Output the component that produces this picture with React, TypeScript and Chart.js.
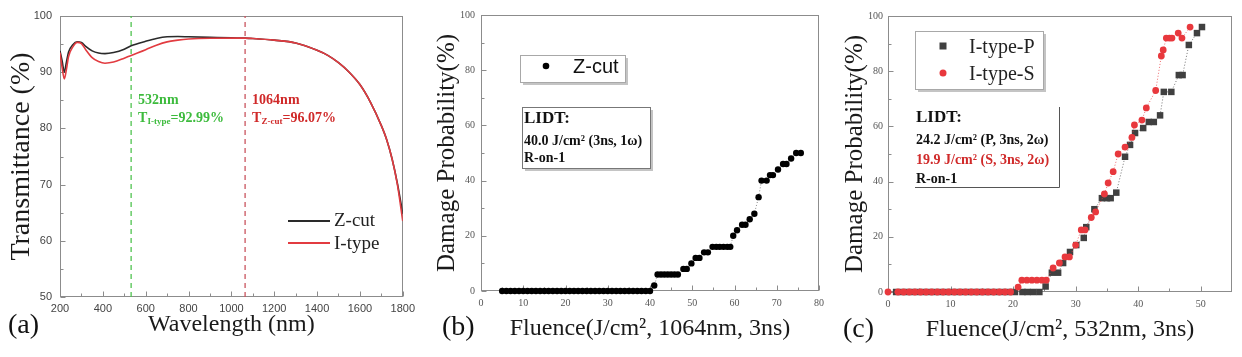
import React, { useEffect, useRef } from "react";
import { Chart, registerables } from "chart.js";

Chart.register(...registerables);

const SERIF = '"Liberation Serif", "Times New Roman", serif';
const SANS = '"Liberation Sans", Arial, sans-serif';

// ---------------- Panel (a): transmittance ----------------
const wavelengthNm = [200, 210, 220, 230, 240, 260, 280, 300, 320, 350, 380, 410, 450, 500, 532, 600, 650, 700, 750, 800, 900, 1000, 1064, 1100, 1200, 1300, 1400, 1450, 1500, 1550, 1600, 1650, 1700, 1725, 1750, 1775, 1800];
const zCutTransmittance = [93.8, 92.0, 90.0, 91.8, 93.6, 94.9, 95.4, 95.3, 94.6, 93.8, 93.4, 93.3, 93.5, 94.1, 94.7, 95.5, 96.0, 96.3, 96.35, 96.3, 96.2, 96.1, 96.07, 96.0, 95.7, 95.2, 93.9, 93.0, 91.7, 90.0, 87.8, 84.6, 80.5, 78.0, 74.6, 70.2, 64.8];
const iTypeTransmittance = [93.5, 90.8, 88.8, 90.5, 92.8, 94.5, 95.3, 95.1, 94.0, 92.6, 91.9, 91.6, 91.8, 92.5, 92.99, 94.0, 94.8, 95.4, 95.7, 95.9, 96.05, 96.07, 96.07, 96.0, 95.7, 95.2, 93.9, 93.0, 91.7, 90.0, 87.8, 84.6, 80.5, 78.0, 74.6, 70.0, 63.5];
const markerWavelengths = [532, 1064];
const aXTicks = [200, 400, 600, 800, 1000, 1200, 1400, 1600, 1800];
const aYTicks = [50, 60, 70, 80, 90, 100];

// ---------------- Panel (b): Z-cut, 1064 nm ----------------
const bFluence = [5, 6, 7, 8, 9, 10, 11, 12, 13, 14, 15, 16, 17, 18, 19, 20, 21, 22, 23, 24, 25, 26, 27, 28, 29, 30, 31, 32, 33, 34, 35, 36, 37, 38, 39, 40,
  41, 41.8, 42.6, 43.4, 44.2, 45.0, 45.8, 46.6, 47.9, 48.7, 49.8, 50.8, 51.7, 52.8, 53.7, 54.8, 55.7, 56.5, 57.4, 58.3, 59.0,
  59.7, 60.6, 61.8, 62.6, 63.6, 64.7, 65.7, 66.4, 67.6, 68.4, 69.1, 70.3, 71.5, 72.3, 73.4, 74.6, 75.7];
const bProbability = [0, 0, 0, 0, 0, 0, 0, 0, 0, 0, 0, 0, 0, 0, 0, 0, 0, 0, 0, 0, 0, 0, 0, 0, 0, 0, 0, 0, 0, 0, 0, 0, 0, 0, 0, 0,
  2, 6, 6, 6, 6, 6, 6, 6, 8, 8, 10, 12, 12, 14, 14, 16, 16, 16, 16, 16, 16,
  20, 22, 24, 24, 26, 28, 34, 40, 40, 42, 42, 44, 46, 46, 48, 50, 50];
const bXTicks = [0, 10, 20, 30, 40, 50, 60, 70, 80];
const bYTicks = [0, 20, 40, 60, 80, 100];

// ---------------- Panel (c): I-type, 532 nm ----------------
const cFluenceP = [1.3, 2.3, 3.3, 4.3, 5.3, 6.3, 7.3, 8.3, 9.3, 10.3, 11.3, 12.3, 13.3, 14.3, 15.3, 16.3, 17.3, 18.3, 19.3, 20.3, 21.5, 22.3, 23.2, 24.2,
  25.2, 26.2, 27.2, 28.0, 29.1, 30.1, 31.3, 31.7, 33.0, 34.2, 35.0, 35.6, 36.5, 37.9, 38.7, 39.5, 40.8, 41.7, 42.5, 43.5, 44.1, 45.3, 46.5, 47.1, 48.1, 49.4, 50.2];
const cProbP = [0, 0, 0, 0, 0, 0, 0, 0, 0, 0, 0, 0, 0, 0, 0, 0, 0, 0, 0, 0, 0, 0, 0, 0,
  2, 7, 7, 10.5, 14.5, 17, 19.6, 23.5, 30, 34, 34, 34, 36, 49, 53.3, 57.6, 59.4, 61.6, 61.6, 64, 72.5, 72.5, 78.6, 78.6, 89.5, 93.8, 96];
const cFluenceS = [0, 1.6, 2.5, 3.4, 4.3, 5.2, 6.1, 7.0, 7.9, 8.8, 9.7, 10.6, 11.5, 12.4, 13.3, 14.2, 15.1, 16.0, 16.9, 17.8, 18.7, 19.6,
  20.8, 21.4, 22.2, 23.0, 23.8, 24.6, 25.3,
  26.4, 27.4, 28.3, 29.0, 30.0, 30.9, 31.5, 32.5, 33.2, 34.6, 35.2, 36.0, 36.8, 37.9, 39.0, 39.4, 40.6, 41.3, 42.8, 43.7, 44.0, 44.5, 45.0, 45.4, 46.4, 47.0, 48.3];
const cProbS = [0, 0, 0, 0, 0, 0, 0, 0, 0, 0, 0, 0, 0, 0, 0, 0, 0, 0, 0, 0, 0, 0,
  1.8, 4.3, 4.3, 4.3, 4.3, 4.3, 4.3,
  8.7, 10.5, 12.7, 12.7, 17, 22.5, 22.5, 27, 29, 35.5, 39.5, 43.6, 50, 52.5, 56, 60.5, 62.3, 66.7, 73, 85.5, 87.7, 92, 92, 92, 93.8, 92, 96];
const cXTicks = [0, 10, 20, 30, 40, 50];
const cYTicks = [0, 20, 40, 60, 80, 100];

// ---------------- helpers ----------------
const pts = (xs: number[], ys: number[]) => xs.map((x, i) => ({ x, y: ys[i] }));

function linearAxis(cfg: {
  min: number; max: number; ticks: number[]; fit: number; horizontal: boolean;
  tickFont: any; tickColor: string; tickPad: number;
  title: string; titleFont: any; titlePad: any;
}) {
  return {
    type: "linear",
    min: cfg.min,
    max: cfg.max,
    afterBuildTicks: (s: any) => { s.ticks = cfg.ticks.map((v) => ({ value: v })); },
    afterFit: (s: any) => { if (cfg.horizontal) s.height = cfg.fit; else s.width = cfg.fit; },
    grid: { display: false, drawTicks: false },
    border: { display: false },
    ticks: { font: cfg.tickFont, color: cfg.tickColor, padding: cfg.tickPad, maxRotation: 0, autoSkip: false, callback: (v: any) => String(v) },
    title: { display: true, text: cfg.title, font: cfg.titleFont, color: "#1a1a1a", padding: cfg.titlePad },
  };
}

function framePlugin(color: string) {
  return {
    id: "frame",
    beforeDatasetsDraw(chart: any) {
      const { ctx, chartArea: a, scales } = chart;
      const L = Math.round(a.left) + 0.5, R = Math.round(a.right) - 0.5;
      const T = Math.round(a.top) + 0.5, B = Math.round(a.bottom) - 0.5;
      ctx.save();
      ctx.strokeStyle = color;
      ctx.lineWidth = 1;
      ctx.strokeRect(L, T, R - L, B - T);
      const mids = (v: number[]) => v.slice(1).map((t, i) => (t + v[i]) / 2);
      const xv = scales.x.ticks.map((t: any) => t.value);
      const yv = scales.y.ticks.map((t: any) => t.value);
      ctx.beginPath();
      xv.forEach((v: number) => { const p = Math.round(scales.x.getPixelForValue(v)) + 0.5; ctx.moveTo(p, B); ctx.lineTo(p, B - 5); });
      mids(xv).forEach((v: number) => { const p = Math.round(scales.x.getPixelForValue(v)) + 0.5; ctx.moveTo(p, B); ctx.lineTo(p, B - 3); });
      yv.forEach((v: number) => { const p = Math.round(scales.y.getPixelForValue(v)) + 0.5; ctx.moveTo(L, p); ctx.lineTo(L + 5, p); });
      mids(yv).forEach((v: number) => { const p = Math.round(scales.y.getPixelForValue(v)) + 0.5; ctx.moveTo(L, p); ctx.lineTo(L + 3, p); });
      ctx.stroke();
      ctx.restore();
    },
  };
}

function shadowBox(ctx: CanvasRenderingContext2D, x0: number, y0: number, x1: number, y1: number, border: string) {
  ctx.fillStyle = "#c4c4c4";
  ctx.fillRect(x0 + 3, y0 + 3, x1 - x0, y1 - y0);
  ctx.fillStyle = "#ffffff";
  ctx.fillRect(x0, y0, x1 - x0, y1 - y0);
  ctx.strokeStyle = border;
  ctx.lineWidth = 1;
  ctx.strokeRect(x0 + 0.5, y0 + 0.5, x1 - x0, y1 - y0);
}

function subText(ctx: CanvasRenderingContext2D, x: number, y: number, main: string, sub: string, rest: string, size: number, subSize: number) {
  ctx.font = `bold ${size}px ${SERIF}`;
  ctx.fillText(main, x, y);
  let cx = x + ctx.measureText(main).width;
  ctx.font = `bold ${subSize}px ${SERIF}`;
  ctx.fillText(sub, cx, y + 4);
  cx += ctx.measureText(sub).width;
  ctx.font = `bold ${size}px ${SERIF}`;
  ctx.fillText(rest, cx, y);
}

const GREEN = "#3dbb3d";
const RED_TXT = "#d02a2a";
const Z_COLOR = "#2a2a2a";
const I_COLOR = "#e23b40";

// ---------------- Panel builders ----------------
function buildA(): any {
  const textA = {
    id: "textA",
    afterDraw(chart: any) {
      const { ctx, scales } = chart;
      ctx.save();
      ctx.textBaseline = "middle";
      ctx.textAlign = "left";
      const g = scales.x.getPixelForValue(markerWavelengths[0]) + 7;
      ctx.fillStyle = GREEN;
      ctx.font = `bold 14px ${SERIF}`;
      ctx.fillText("532nm", g, 100);
      subText(ctx, g, 118, "T", "I-type", "=92.99%", 14, 9);
      const r = scales.x.getPixelForValue(markerWavelengths[1]) + 7;
      ctx.fillStyle = RED_TXT;
      ctx.font = `bold 14px ${SERIF}`;
      ctx.fillText("1064nm", r, 100);
      subText(ctx, r, 118, "T", "Z-cut", "=96.07%", 14, 9);
      // legend
      ctx.lineWidth = 2;
      ctx.strokeStyle = Z_COLOR;
      ctx.beginPath(); ctx.moveTo(288, 221); ctx.lineTo(330, 221); ctx.stroke();
      ctx.strokeStyle = I_COLOR;
      ctx.beginPath(); ctx.moveTo(288, 243); ctx.lineTo(330, 243); ctx.stroke();
      ctx.fillStyle = "#222";
      ctx.font = `19px ${SERIF}`;
      ctx.fillText("Z-cut", 334, 221);
      ctx.fillText("I-type", 334, 244);
      ctx.font = `28px ${SERIF}`;
      ctx.fillStyle = "#111";
      ctx.fillText("(a)", 8, 326);
      ctx.restore();
    },
  };
  return {
    type: "line",
    data: {
      datasets: [
        { label: "I-type", data: pts(wavelengthNm, iTypeTransmittance), borderColor: I_COLOR, borderWidth: 1.6, pointRadius: 0, cubicInterpolationMode: "monotone", fill: false },
        { label: "Z-cut", data: pts(wavelengthNm, zCutTransmittance), borderColor: Z_COLOR, borderWidth: 1.6, pointRadius: 0, cubicInterpolationMode: "monotone", fill: false },
        { label: "532nm", data: [{ x: markerWavelengths[0], y: aYTicks[0] }, { x: markerWavelengths[0], y: aYTicks[aYTicks.length - 1] }], borderColor: "#4fc24f", borderDash: [5, 4], borderWidth: 1.3, pointRadius: 0 },
        { label: "1064nm", data: [{ x: markerWavelengths[1], y: aYTicks[0] }, { x: markerWavelengths[1], y: aYTicks[aYTicks.length - 1] }], borderColor: "#c9545e", borderDash: [5, 4], borderWidth: 1.3, pointRadius: 0 },
      ],
    },
    options: {
      responsive: false,
      animation: false,
      devicePixelRatio: 1,
      layout: { padding: { left: 0, top: 16, right: 13, bottom: 0 } },
      plugins: { legend: { display: false }, tooltip: { enabled: false } },
      scales: {
        x: linearAxis({ min: 200, max: 1800, ticks: aXTicks, fit: 60, horizontal: true, tickFont: { family: SANS, size: 11 }, tickColor: "#444", tickPad: 5, title: "Wavelength (nm)", titleFont: { family: SERIF, size: 24 }, titlePad: { top: 0, bottom: 18 } }),
        y: linearAxis({ min: 50, max: 100, ticks: aYTicks, fit: 60, horizontal: false, tickFont: { family: SANS, size: 11 }, tickColor: "#444", tickPad: 8, title: "Transmittance (%)", titleFont: { family: SERIF, size: 28 }, titlePad: { top: 5, bottom: 0 } }),
      },
    },
    plugins: [framePlugin("#8c8c8c"), textA],
  };
}

function buildB(): any {
  const textB = {
    id: "textB",
    afterDraw(chart: any) {
      const ctx = chart.ctx as CanvasRenderingContext2D;
      ctx.save();
      ctx.textBaseline = "middle";
      ctx.textAlign = "left";
      shadowBox(ctx, 100, 55, 205, 82, "#a8a8a8");
      ctx.fillStyle = "#000";
      ctx.beginPath(); ctx.arc(126, 66, 3.3, 0, Math.PI * 2); ctx.fill();
      ctx.font = `20px ${SANS}`;
      ctx.fillStyle = "#111";
      ctx.fillText("Z-cut", 153, 67);
      shadowBox(ctx, 102, 107, 230, 168, "#777");
      ctx.fillStyle = "#111";
      ctx.font = `bold 17px ${SERIF}`;
      ctx.fillText("LIDT:", 104, 119);
      ctx.font = `bold 14px ${SERIF}`;
      ctx.fillText("40.0 J/cm² (3ns, 1ω)", 104, 141);
      ctx.fillText("R-on-1", 104, 158);
      ctx.font = `28px ${SERIF}`;
      ctx.fillText("(b)", 22, 328);
      ctx.restore();
    },
  };
  return {
    type: "scatter",
    data: {
      datasets: [
        { label: "Z-cut", data: pts(bFluence, bProbability), showLine: true, borderColor: "rgba(90,90,90,0.7)", borderWidth: 1, borderDash: [1, 2], pointStyle: "circle", pointRadius: 3.2, pointBackgroundColor: "#000", pointBorderWidth: 0, clip: false },
      ],
    },
    options: {
      responsive: false,
      animation: false,
      devicePixelRatio: 1,
      layout: { padding: { left: 0, top: 15, right: 5, bottom: 0 } },
      plugins: { legend: { display: false }, tooltip: { enabled: false } },
      scales: {
        x: linearAxis({ min: 0, max: 80, ticks: bXTicks, fit: 66, horizontal: true, tickFont: { family: SERIF, size: 10 }, tickColor: "#555", tickPad: 6, title: "Fluence(J/cm², 1064nm, 3ns)", titleFont: { family: SERIF, size: 24 }, titlePad: { top: 0, bottom: 14 } }),
        y: linearAxis({ min: 0, max: 100, ticks: bYTicks, fit: 61, horizontal: false, tickFont: { family: SERIF, size: 10 }, tickColor: "#555", tickPad: 6, title: "Damage Probability(%)", titleFont: { family: SERIF, size: 25 }, titlePad: { top: 12, bottom: 0 } }),
      },
    },
    plugins: [framePlugin("#8c8c8c"), textB],
  };
}

function buildC(): any {
  const P_COLOR = "#404040";
  const S_COLOR = "#e8383d";
  const textC = {
    id: "textC",
    afterDraw(chart: any) {
      const ctx = chart.ctx as CanvasRenderingContext2D;
      ctx.save();
      ctx.textBaseline = "middle";
      ctx.textAlign = "left";
      shadowBox(ctx, 85, 31, 213, 89, "#a8a8a8");
      ctx.fillStyle = P_COLOR;
      ctx.fillRect(113 - 3.5, 46 - 3.5, 7, 7);
      ctx.fillStyle = S_COLOR;
      ctx.beginPath(); ctx.arc(113, 73, 3.5, 0, Math.PI * 2); ctx.fill();
      ctx.fillStyle = "#222";
      ctx.font = `20px ${SERIF}`;
      ctx.fillText("I-type-P", 139, 48);
      ctx.fillText("I-type-S", 139, 75);
      // LIDT box: right & bottom edges only
      ctx.fillStyle = "#fff";
      ctx.fillRect(85, 107, 144, 80);
      ctx.strokeStyle = "#555";
      ctx.lineWidth = 1;
      ctx.beginPath();
      ctx.moveTo(229.5, 107); ctx.lineTo(229.5, 187.5); ctx.lineTo(85, 187.5);
      ctx.stroke();
      ctx.fillStyle = "#111";
      ctx.font = `bold 17px ${SERIF}`;
      ctx.fillText("LIDT:", 86, 118);
      ctx.font = `bold 14px ${SERIF}`;
      ctx.fillText("24.2 J/cm² (P, 3ns, 2ω)", 86, 140);
      ctx.fillStyle = RED_TXT;
      ctx.fillText("19.9 J/cm² (S, 3ns, 2ω)", 86, 160);
      ctx.fillStyle = "#111";
      ctx.fillText("R-on-1", 86, 179);
      ctx.font = `28px ${SERIF}`;
      ctx.fillText("(c)", 13, 330);
      ctx.restore();
    },
  };
  return {
    type: "scatter",
    data: {
      datasets: [
        { label: "I-type-S", data: pts(cFluenceS, cProbS), showLine: true, borderColor: "rgba(232,56,61,0.75)", borderWidth: 1, borderDash: [1, 2], pointStyle: "circle", pointRadius: 3.4, pointBackgroundColor: S_COLOR, pointBorderWidth: 0, clip: false },
        { label: "I-type-P", data: pts(cFluenceP, cProbP), showLine: true, borderColor: "rgba(70,70,70,0.75)", borderWidth: 1, borderDash: [1, 2], pointStyle: "rect", pointRadius: 4.6, pointBackgroundColor: P_COLOR, pointBorderWidth: 0, clip: false },
      ],
    },
    options: {
      responsive: false,
      animation: false,
      devicePixelRatio: 1,
      layout: { padding: { left: 0, top: 16, right: 10, bottom: 0 } },
      plugins: { legend: { display: false }, tooltip: { enabled: false } },
      scales: {
        x: linearAxis({ min: 0, max: 55, ticks: cXTicks, fit: 65, horizontal: true, tickFont: { family: SERIF, size: 10 }, tickColor: "#555", tickPad: 6, title: "Fluence(J/cm², 532nm, 3ns)", titleFont: { family: SERIF, size: 24 }, titlePad: { top: 0, bottom: 13 } }),
        y: linearAxis({ min: 0, max: 100, ticks: cYTicks, fit: 58, horizontal: false, tickFont: { family: SERIF, size: 10 }, tickColor: "#555", tickPad: 5, title: "Damage Probability(%)", titleFont: { family: SERIF, size: 25 }, titlePad: { top: 10, bottom: 0 } }),
      },
    },
    plugins: [framePlugin("#8c8c8c"), textC],
  };
}

function Panel({ left, width, build }: { left: number; width: number; build: () => any }) {
  const ref = useRef<HTMLCanvasElement>(null);
  useEffect(() => {
    const chart = new Chart(ref.current as HTMLCanvasElement, build());
    return () => chart.destroy();
  }, []);
  return (
    <div style={{ position: "absolute", left, top: 0, width, height: 357 }}>
      <canvas ref={ref} width={width} height={357} style={{ display: "block", width, height: 357 }} />
    </div>
  );
}

export default function App() {
  return (
    <div style={{ position: "fixed", left: 0, top: 0, width: 1242, height: 357, background: "#fff", overflow: "hidden" }}>
      <Panel left={0} width={420} build={buildA} />
      <Panel left={420} width={410} build={buildB} />
      <Panel left={830} width={412} build={buildC} />
    </div>
  );
}
